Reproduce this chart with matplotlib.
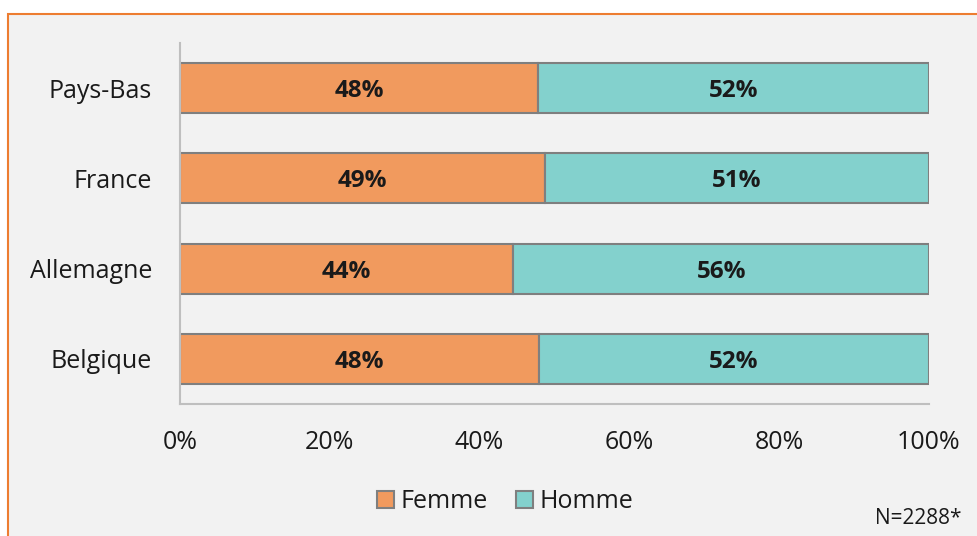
import matplotlib
matplotlib.use("Agg")
import matplotlib.pyplot as plt
from matplotlib.patches import Rectangle

categories = ["Pays-Bas", "France", "Allemagne", "Belgique"]
femme = [47.8, 48.7, 44.5, 47.9]
homme = [52.2, 51.3, 55.5, 52.1]
femme_labels = ["48%", "49%", "44%", "48%"]
homme_labels = ["52%", "51%", "56%", "52%"]
xticks = [0, 20, 40, 60, 80, 100]
xtick_labels = ["0%", "20%", "40%", "60%", "80%", "100%"]

plt.rcParams['font.family'] = ['Open Sans', 'DejaVu Sans']

W, H = 978, 536
fig = plt.figure(figsize=(W/100, H/100), dpi=100)
fig.patch.set_facecolor("white")
# gray background with orange frame
bg = Rectangle((8/W, -0.05), 1.2, 1 - 14/H + 0.05, transform=fig.transFigure,
               facecolor="#f2f2f2", edgecolor="#ED7D31", linewidth=1.5, zorder=-10)
fig.patches.append(bg)

ax = fig.add_axes([180/W, 1 - 404/H, (929-180)/W, (404-43)/H])
ax.set_facecolor("none")
ax.set_zorder(1)

ypos = list(range(len(categories)))
c_f = "#F19A5E"
c_h = "#83D1CD"
ax.barh(ypos, femme, height=50/90, color=c_f, edgecolor="#7f7f7f", linewidth=1.5, label="Femme")
ax.barh(ypos, homme, left=femme, height=50/90, color=c_h, edgecolor="#7f7f7f", linewidth=1.5, label="Homme")

for i in ypos:
    ax.text(femme[i]/2, i, femme_labels[i], ha="center", va="center_baseline",
            fontsize=17.5, fontweight="bold", color="#1a1a1a")
    ax.text(femme[i] + homme[i]/2, i, homme_labels[i], ha="center", va="center_baseline",
            fontsize=17.5, fontweight="bold", color="#1a1a1a")

ax.set_ylim(3.5, -0.5)
ax.set_xlim(0, 100)
ax.set_yticks(ypos)
ax.set_yticklabels(categories, fontsize=18, color="#1a1a1a")
ax.set_xticks(xticks)
ax.set_xticklabels(xtick_labels, fontsize=18, color="#1a1a1a")
ax.tick_params(axis="both", length=0)
ax.tick_params(axis="y", pad=20)
ax.tick_params(axis="x", pad=19)
for s in ["top", "right"]:
    ax.spines[s].set_visible(False)
for s in ["left", "bottom"]:
    ax.spines[s].set_color("#bfbfbf")
    ax.spines[s].set_linewidth(1.5)

leg = fig.legend(loc="center", bbox_to_anchor=(505/W, 1 - 502/H), ncol=2, frameon=False,
                 fontsize=18, handlelength=0.68, handleheight=0.68, handletextpad=0.28,
                 columnspacing=1.1)
for t in leg.get_texts():
    t.set_color("#1a1a1a")

fig.text(962/W, 1 - 519/H, "N=2288*", ha="right", va="center", fontsize=15, color="#1a1a1a")

fig.savefig("out.png", dpi=100, facecolor=fig.get_facecolor())
